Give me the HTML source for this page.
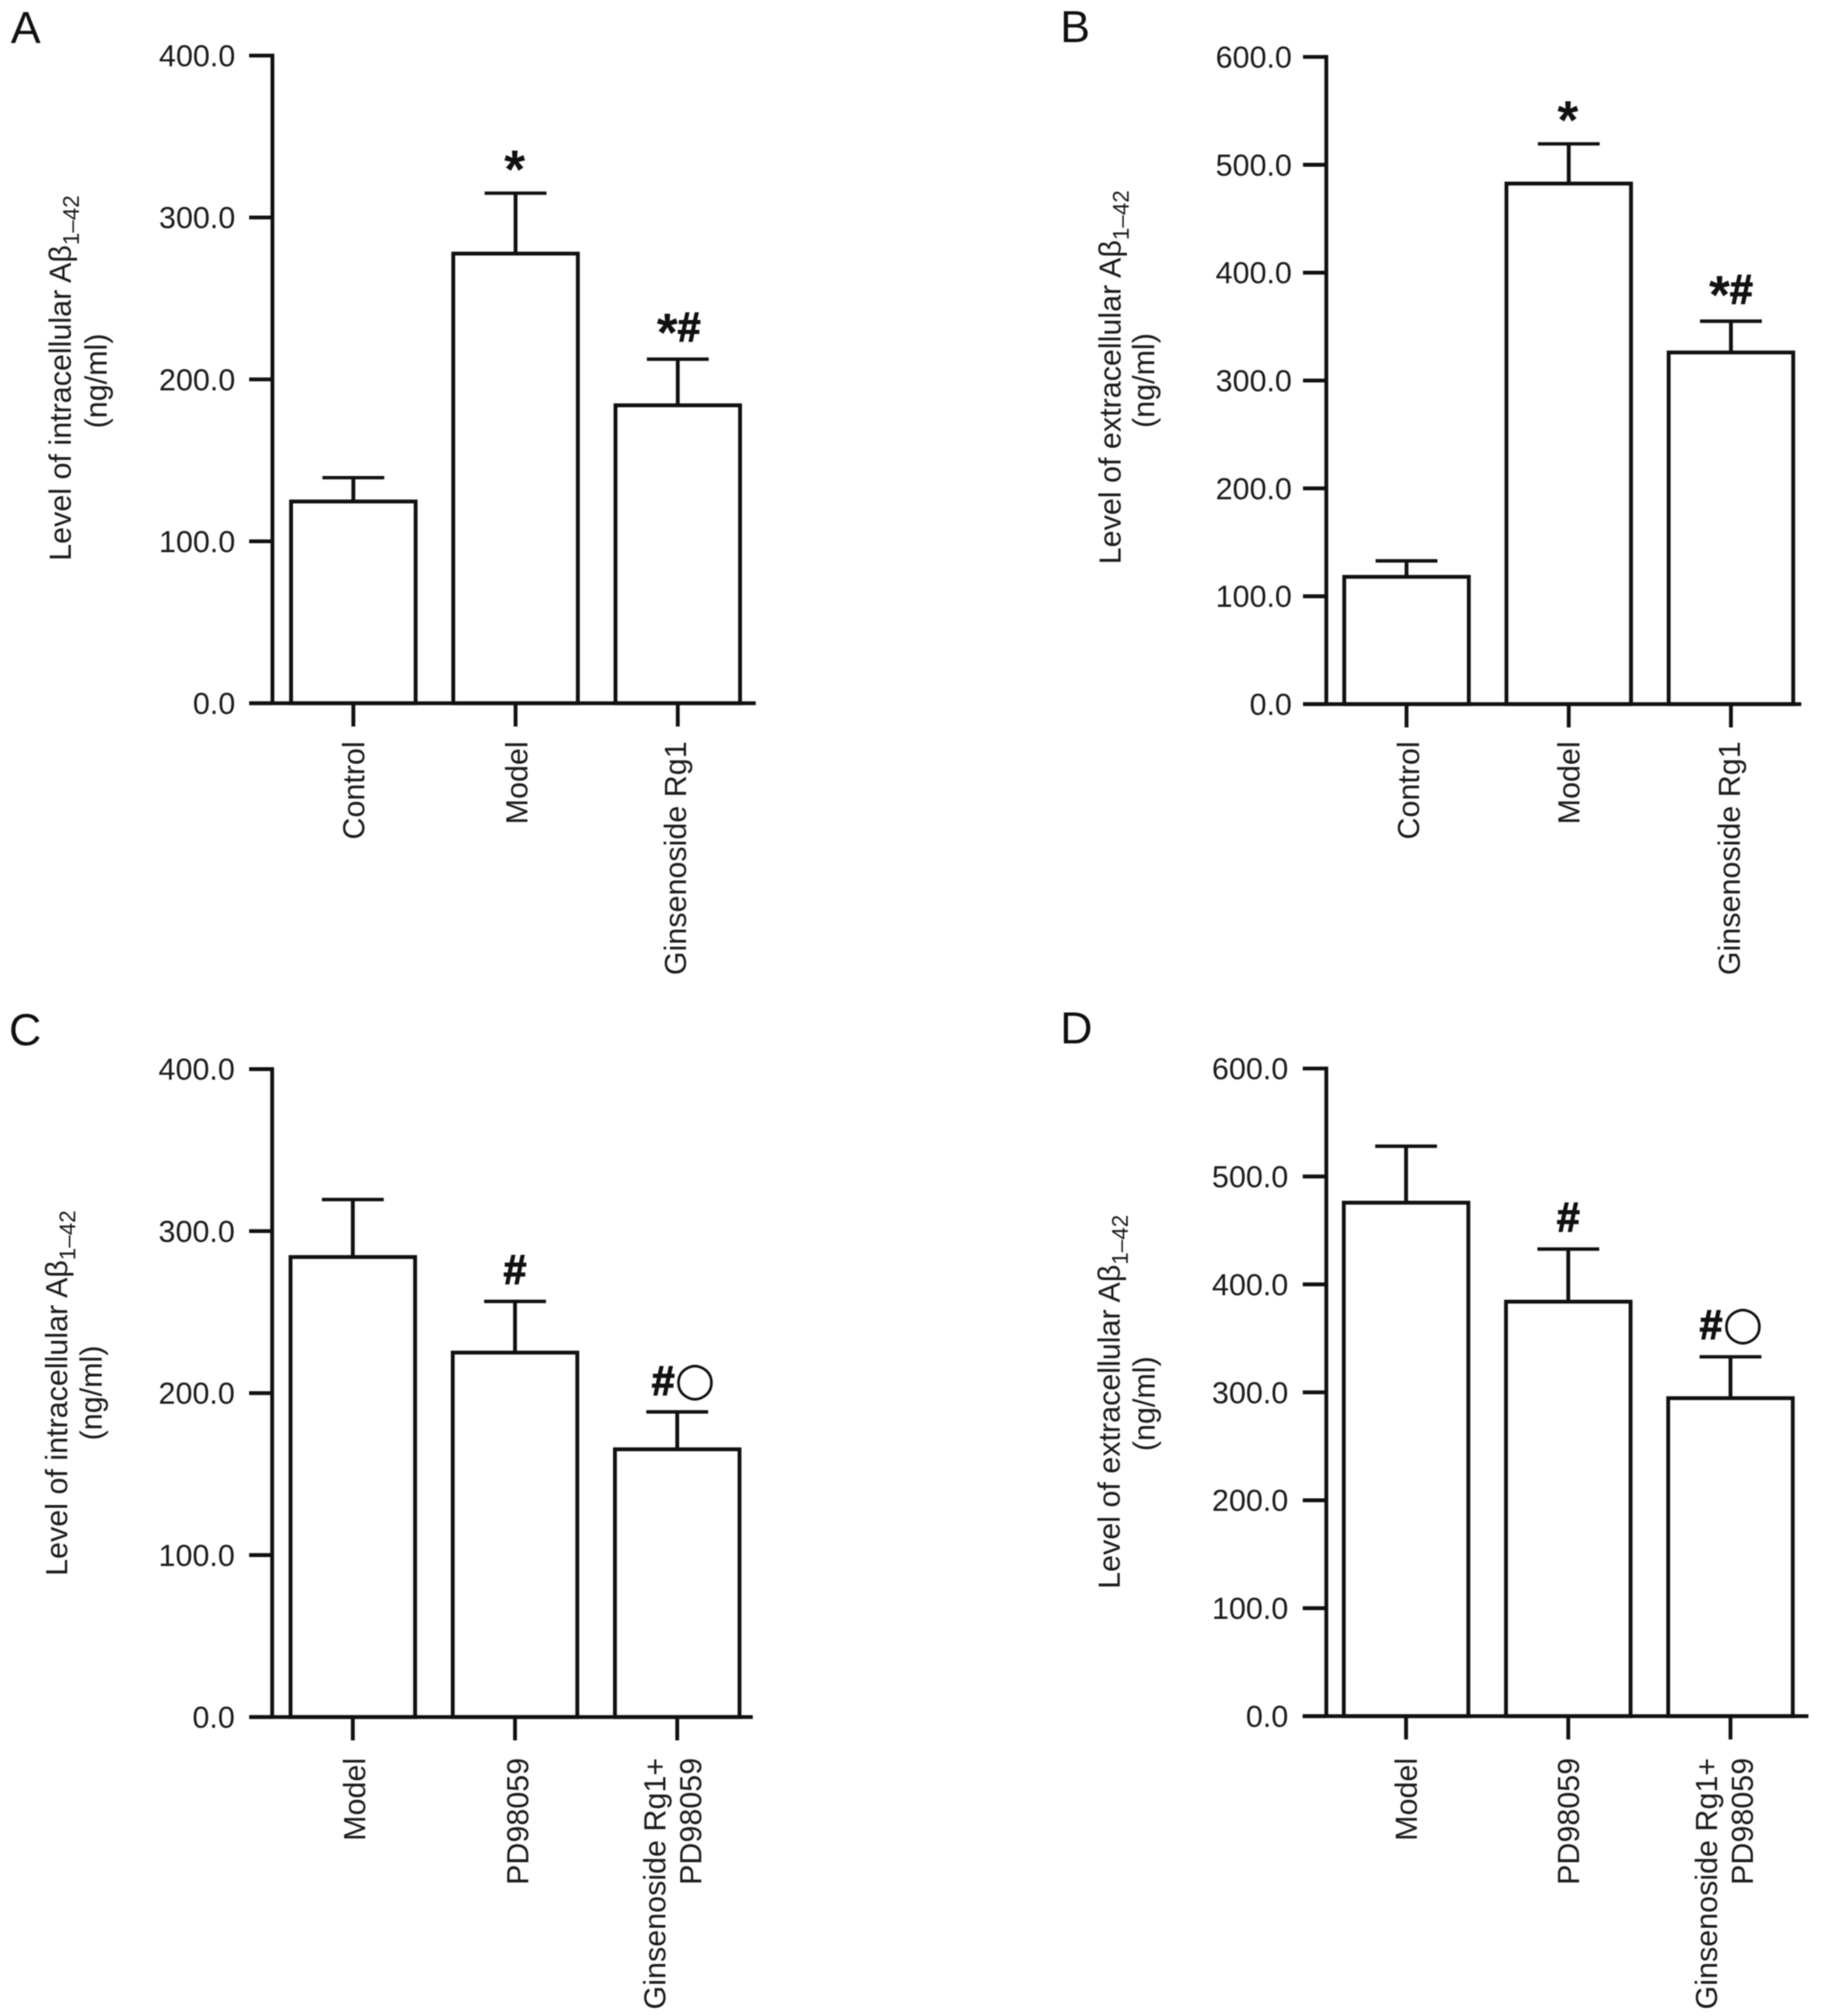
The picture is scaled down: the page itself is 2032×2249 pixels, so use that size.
<!DOCTYPE html>
<html lang="en">
<head>
<meta charset="utf-8">
<title>Level of intracellular and extracellular Aβ1–42</title>
<style>
  html, body { margin: 0; padding: 0; background: #fff; }
  body { width: 2032px; height: 2249px; overflow: hidden; }
  svg { display: block; filter: blur(0.6px); }
  text { font-family: "Liberation Sans", "DejaVu Sans", sans-serif; fill: #1c1c1c; }
  .panel-letter { font-size: 50px; fill: #111; }
  .y-title { font-size: 34px; }
  .sub { font-size: 25px; }
  .tick-label { font-size: 34px; text-anchor: end; }
  .cat-label { font-size: 34px; text-anchor: end; }
  .annot { font-weight: bold; text-anchor: middle; fill: #111; }
  .annot .hash { font-size: 46px; stroke: #111; stroke-width: 1.2px; }
  .annot .star { font-size: 60px; }
  .annot .ring { font-size: 52px; font-weight: normal; font-family: "DejaVu Sans", sans-serif; }
</style>
</head>
<body>
<svg id="figure" xmlns="http://www.w3.org/2000/svg" width="2032" height="2249" viewBox="0 0 2032 2249">
  <rect x="0" y="0" width="2032" height="2249" fill="#ffffff"/>

  <text class="panel-letter" x="12" y="48">A</text>
  <text class="panel-letter" x="1183" y="47">B</text>
  <text class="panel-letter" x="10" y="1166">C</text>
  <text class="panel-letter" x="1183" y="1164">D</text>

  <g>
    <text class="y-title" transform="translate(79,625.6) rotate(-90)">Level of intracellular Aβ<tspan class="sub" dy="9">1–42</tspan></text>
    <text class="y-title" text-anchor="middle" transform="translate(119,425) rotate(-90)">(ng/ml)</text>
  </g>
  <g>
    <text class="y-title" transform="translate(1250.5,629.5) rotate(-90)">Level of extracellular Aβ<tspan class="sub" dy="9">1–42</tspan></text>
    <text class="y-title" text-anchor="middle" transform="translate(1288,424.5) rotate(-90)">(ng/ml)</text>
  </g>
  <g>
    <text class="y-title" transform="translate(75,1758) rotate(-90)">Level of intracellular Aβ<tspan class="sub" dy="9">1–42</tspan></text>
    <text class="y-title" text-anchor="middle" transform="translate(113.5,1554) rotate(-90)">(ng/ml)</text>
  </g>
  <g>
    <text class="y-title" transform="translate(1249.6,1772.5) rotate(-90)">Level of extracellular Aβ<tspan class="sub" dy="9">1–42</tspan></text>
    <text class="y-title" text-anchor="middle" transform="translate(1288.5,1566) rotate(-90)">(ng/ml)</text>
  </g>
</svg>

<script>
// ---- Chart data ----
const categoriesA = [['Control'], ['Model'], ['Ginsenoside Rg1']];
const meansA = [124.6, 277.7, 184];
const errorTopsA = [139.3, 315, 212.5];
const marksA = ['', '*', '*#'];
const tickValuesA = [0, 100, 200, 300, 400];

const categoriesB = [['Control'], ['Model'], ['Ginsenoside Rg1']];
const meansB = [118, 482.6, 326];
const errorTopsB = [132.8, 519.4, 355];
const marksB = ['', '*', '*#'];
const tickValuesB = [0, 100, 200, 300, 400, 500, 600];

const categoriesC = [['Model'], ['PD98059'], ['Ginsenoside Rg1+', 'PD98059']];
const meansC = [284, 225, 165.3];
const errorTopsC = [319.5, 256.6, 188.4];
const marksC = ['', '#', '#○'];
const tickValuesC = [0, 100, 200, 300, 400];

const categoriesD = [['Model'], ['PD98059'], ['Ginsenoside Rg1+', 'PD98059']];
const meansD = [475.7, 384, 294.6];
const errorTopsD = [528, 432.7, 332.9];
const marksD = ['', '#', '#○'];
const tickValuesD = [0, 100, 200, 300, 400, 500, 600];

// ---- Panel layout ----
const panelA = { key: 'a', categories: categoriesA, means: meansA, errorTops: errorTopsA, marks: marksA, ticks: tickValuesA,
  layout: { axisX: 304, tickLeft: 278, zeroY: 784.5, topY: 62, max: 400, firstCenter: 394.3, xEnd: 843.3, tickLabelRight: 262.5, labelTop: 827, labelShift: [[12], [13], [9]], markShift: 1, starShift: -1, ringDrop: 0 } };
const panelB = { key: 'b', categories: categoriesB, means: meansB, errorTops: errorTopsB, marks: marksB, ticks: tickValuesB,
  layout: { axisX: 1480, tickLeft: 1454, zeroY: 785.5, topY: 63.5, max: 600, firstCenter: 1569.5, xEnd: 2010, tickLabelRight: 1441.6, labelTop: 827, labelShift: [[14], [12], [10]], markShift: 0, starShift: -1, ringDrop: 0 } };
const panelC = { key: 'c', categories: categoriesC, means: meansC, errorTops: errorTopsC, marks: marksC, ticks: tickValuesC,
  layout: { axisX: 303.7, tickLeft: 278, zeroY: 1915.5, topY: 1192.7, max: 400, firstCenter: 393.7, xEnd: 840, tickLabelRight: 262, labelTop: 1961, labelShift: [[14], [15], [-13, 27]], markShift: 7, starShift: 0, ringDrop: 1 } };
const panelD = { key: 'd', categories: categoriesD, means: meansD, errorTops: errorTopsD, marks: marksD, ticks: tickValuesD,
  layout: { axisX: 1480, tickLeft: 1453.7, zeroY: 1914.5, topY: 1192, max: 600, firstCenter: 1569, xEnd: 2018, tickLabelRight: 1437.5, labelTop: 1961, labelShift: [[12], [12], [-15, 25]], markShift: 1, starShift: 0, ringDrop: 0 } };

const SVG_NS = 'http://www.w3.org/2000/svg';
const figure = document.getElementById('figure');
const INK = '#111111';
const BAR_STEP = 181;
const BAR_WIDTH = 139;
const CAP_WIDTH = 69;
const LINE = 4.3;

function make(tag, parent, props) {
  const node = document.createElementNS(SVG_NS, tag);
  Object.keys(props).forEach(function (k) { node.setAttribute(k, props[k]); });
  parent.appendChild(node);
  return node;
}

function drawPanel(p) {
  const L = p.layout;
  const yScale = function (v) { return L.zeroY - (v / L.max) * (L.zeroY - L.topY); };
  const xScale = function (i) { return L.firstCenter + i * BAR_STEP; };

  const g = make('g', figure, {});
  
  

  // Bars and error bars
  p.means.forEach(function (value, i) {
    const cx = xScale(i);
    const stem = make('line', g, { x1: cx, x2: cx, y1: yScale(value), y2: yScale(p.errorTops[i]), stroke: INK, 'stroke-width': LINE });
    
    

    const cap = make('line', g, { x1: cx - CAP_WIDTH / 2, x2: cx + CAP_WIDTH / 2, y1: yScale(p.errorTops[i]), y2: yScale(p.errorTops[i]), stroke: INK, 'stroke-width': LINE - 0.5 });
    
    

    const bar = make('rect', g, { x: cx - BAR_WIDTH / 2, y: yScale(value), width: BAR_WIDTH, height: L.zeroY - yScale(value), fill: '#ffffff', stroke: INK, 'stroke-width': LINE });
    
    

    const xTick = make('line', g, { x1: cx, x2: cx, y1: L.zeroY, y2: L.zeroY + 26, stroke: INK, 'stroke-width': LINE });
    
    

    p.categories[i].forEach(function (line, j) {
      const bx = cx + L.labelShift[i][j];
      const label = make('text', g, { class: 'cat-label', transform: 'translate(' + bx + ',' + L.labelTop + ') rotate(-90)' });
      label.textContent = line;
      
      
    });

    if (p.marks[i]) {
      const symbol = p.marks[i];
      const capY = yScale(p.errorTops[i]);
      let base = capY - 20;
      if (symbol === '*') { base = capY - 6; }
      if (symbol === '#○') { base = capY - 20 + L.ringDrop; }
      const shift = (i === 2 ? L.markShift : 0) + (symbol === '*' ? L.starShift : 0);
      const mark = make('text', g, { class: 'annot', x: cx + shift, y: base });
      
      
      Array.from(symbol).forEach(function (ch) {
        const span = make('tspan', mark, { class: ch === '*' ? 'star' : (ch === '#' ? 'hash' : 'ring') });
        if (symbol === '*#' && ch === '*') { span.setAttribute('dy', '11'); }
        if (symbol === '*#' && ch === '#') { span.setAttribute('dy', '-11'); }
        span.textContent = ch;
      });
    }
  });

  // Axes
  const yAxis = make('line', g, { x1: L.axisX, x2: L.axisX, y1: L.topY - LINE / 2, y2: L.zeroY, stroke: INK, 'stroke-width': LINE });
  
  

  const xAxis = make('line', g, { x1: L.tickLeft, x2: L.xEnd, y1: L.zeroY, y2: L.zeroY, stroke: INK, 'stroke-width': LINE });
  
  

  p.ticks.forEach(function (value) {
    const y = yScale(value);
    const tick = make('line', g, { x1: L.tickLeft, x2: L.axisX, y1: y, y2: y, stroke: INK, 'stroke-width': LINE });
    
    

    const label = make('text', g, { class: 'tick-label', x: L.tickLabelRight, y: y + 12 });
    label.textContent = value.toFixed(1);
    
    
  });
}

drawPanel(panelA);
drawPanel(panelB);
drawPanel(panelC);
drawPanel(panelD);
</script>
</body>
</html>
